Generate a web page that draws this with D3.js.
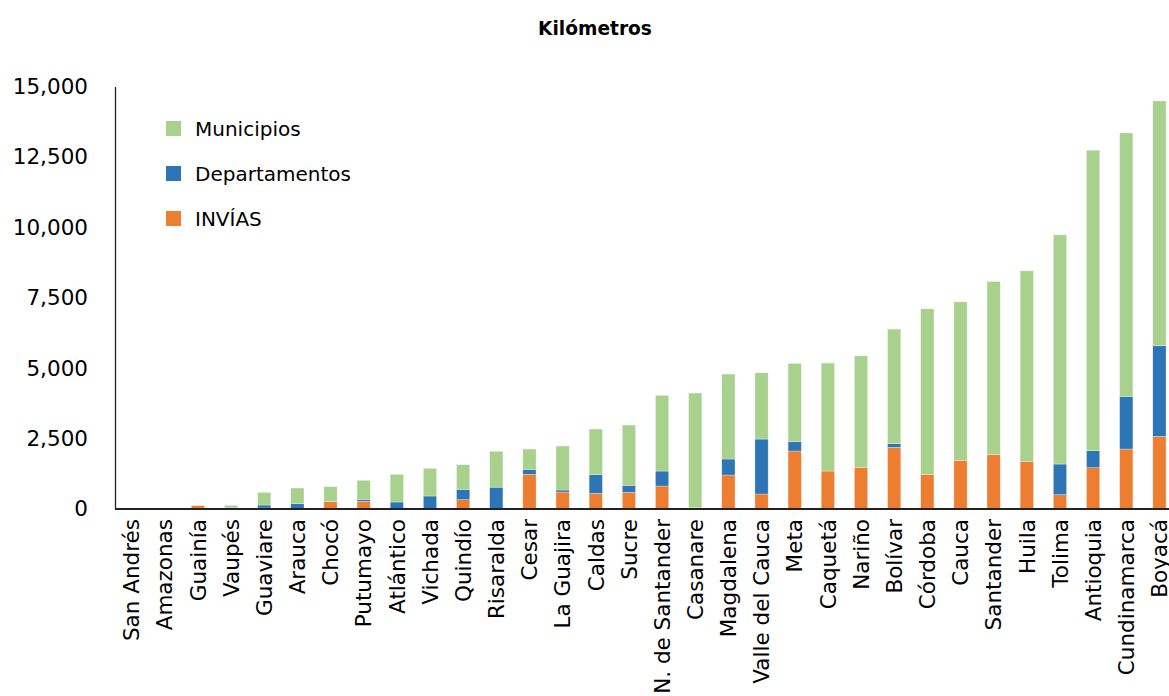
<!DOCTYPE html>
<html>
<head>
<meta charset="utf-8">
<script src="https://cdn.jsdelivr.net/npm/d3@7"></script>
<style>
  html, body { margin: 0; padding: 0; background: #fff; }
  svg text { font-family: "DejaVu Sans", Lato, sans-serif; fill: #000; }
</style>
</head>
<body>
<svg id="chart" width="1169" height="696"></svg>
<script>
// Red vial por departamento (km), apilada por responsable
const departamentos = ["San Andrés","Amazonas","Guainía","Vaupés","Guaviare","Arauca","Chocó","Putumayo",
  "Atlántico","Vichada","Quindío","Risaralda","Cesar","La Guajira","Caldas","Sucre","N. de Santander",
  "Casanare","Magdalena","Valle del Cauca","Meta","Caquetá","Nariño","Bolívar","Córdoba","Cauca",
  "Santander","Huila","Tolima","Antioquia","Cundinamarca","Boyacá"];
const invias = [0,0,120,0,35,0,260,272,0,0,331,0,1230,603,556,592,816,47,1207,532,2058,1349,1479,2189,1230,1727,1940,1692,509,1467,2129,2579];
const deptos = [0,0,0,60,106,189,0,71,248,461,367,775,178,71,662,248,532,0,568,1952,331,0,0,130,0,0,0,0,1088,603,1869,3218];
const municipios = [0,0,0,70,451,556,533,674,982,982,875,1275,721,1562,1621,2141,2686,4070,3016,2354,2781,3833,3963,4069,5880,5631,6140,6766,8139,10671,9358,8695];
const yTicks = [0,2500,5000,7500,10000,12500,15000];

const seriesNames = ["INVÍAS","Departamentos","Municipios"];
const colors = {"INVÍAS":"#ED7D31","Departamentos":"#2E75B6","Municipios":"#A9D18E"};

const rows = departamentos.map((d,i)=>({dep:d, "INVÍAS":invias[i], "Departamentos":deptos[i], "Municipios":municipios[i]}));
const stacked = d3.stack().keys(seriesNames)(rows);

const svg = d3.select("#chart");
const plotLeft = 115, plotRight = 1176, plotTop = 86.6, plotBottom = 509;

const x = d3.scaleBand().domain(departamentos).range([plotLeft, plotRight]).paddingInner(0.6).paddingOuter(0.3);
const y = d3.scaleLinear().domain([0,15000]).range([plotBottom, plotTop]);

// Título
svg.append("text").attr("x", 595).attr("y", 35).attr("text-anchor","middle")
  .attr("font-size", 18.6).attr("font-weight", "bold").text("Kilómetros");

// Barras apiladas
svg.append("g").selectAll("g").data(stacked).join("g")
  .attr("fill", s => colors[s.key])
  .selectAll("rect").data(s => s).join("rect")
  .attr("x", d => x(d.data.dep))
  .attr("width", x.bandwidth())
  .attr("y", d => y(d[1]))
  .attr("height", d => Math.max(0, y(d[0]) - y(d[1])))
  .attr("stroke", "rgba(255,255,255,0.5)").attr("stroke-width", 0.6);

// Eje Y
const yAxis = svg.append("g").attr("transform", `translate(${plotLeft},0)`)
  .call(d3.axisLeft(y).tickValues(yTicks).tickSize(0).tickPadding(27).tickFormat(d3.format(",")));
yAxis.select(".domain").attr("stroke", "#222").attr("stroke-width", 1.3);
yAxis.selectAll("text").attr("font-size", 21.5).attr("fill", "#000");

// Eje X
const xAxis = svg.append("g").attr("transform", `translate(0,${plotBottom})`)
  .call(d3.axisBottom(x).tickSize(0));
xAxis.select(".domain").attr("d", `M${plotLeft},0H1169`).attr("stroke", "#222").attr("stroke-width", 2.2);
xAxis.selectAll("text")
  .attr("font-size", 21.5).attr("fill", "#000")
  .attr("transform", "rotate(-90)")
  .attr("text-anchor", "end")
  .attr("x", -10).attr("y", 0).attr("dy", "0.36em");

// Leyenda
const legendItems = ["Municipios","Departamentos","INVÍAS"];
const lg = svg.append("g").attr("transform", "translate(166,121)");
legendItems.forEach((k,i) => {
  lg.append("rect").attr("x", 0).attr("y", i*45).attr("width", 15).attr("height", 15).attr("fill", colors[k]);
  lg.append("text").attr("x", 29).attr("y", i*45 + 7.5).attr("dy", "0.36em")
    .attr("font-size", 20).text(k);
});
</script>
</body>
</html>
